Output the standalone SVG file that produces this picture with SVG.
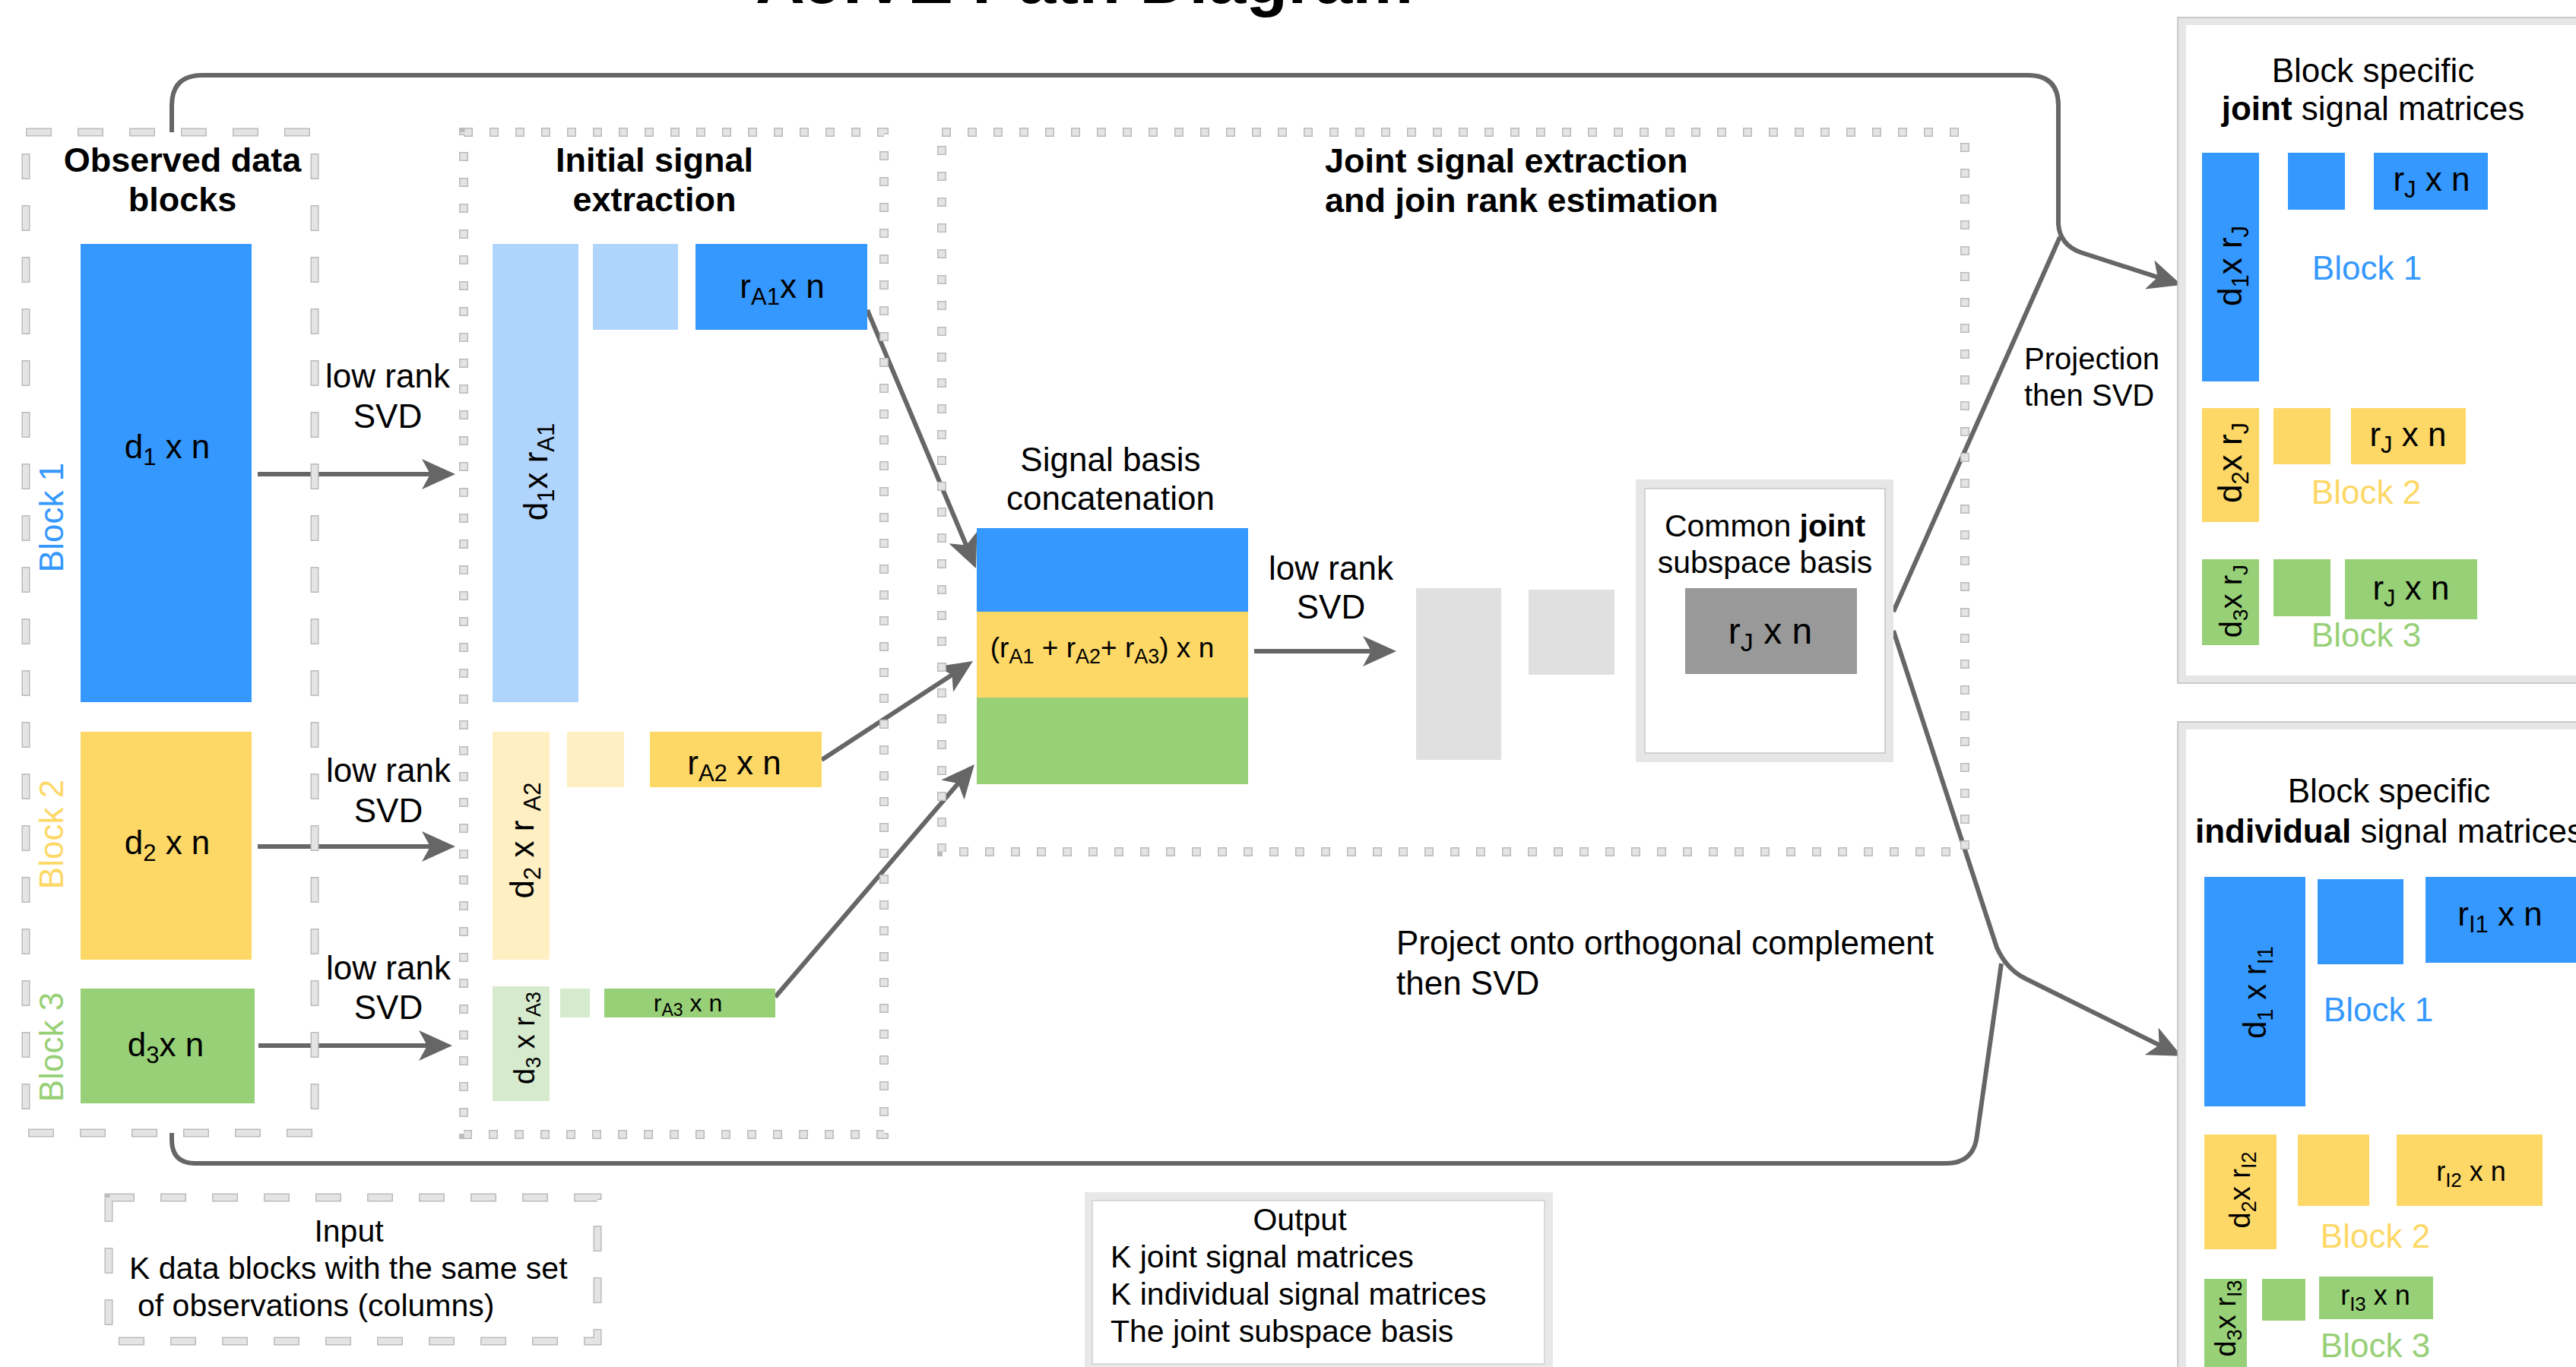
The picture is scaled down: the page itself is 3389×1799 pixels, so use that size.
<svg xmlns="http://www.w3.org/2000/svg" width="3389" height="1799" viewBox="0 0 3389 1799">
<defs>
<style>
.t{font-family:"Liberation Sans",Arial,Helvetica,sans-serif;fill:#000}
.b{font-weight:bold}
.m{text-anchor:middle}
.conn{fill:none;stroke:#666;stroke-width:6;stroke-linejoin:round}
.dO{fill:none;stroke:#bbbbbb;stroke-width:11;stroke-dasharray:34 34}
.dI{fill:none;stroke:#e4e4e4;stroke-width:8;stroke-dasharray:31 37;stroke-dashoffset:-1.5}
.pO{fill:none;stroke:#bbbbbb;stroke-width:12;stroke-dasharray:12 22}
.pI{fill:none;stroke:#e4e4e4;stroke-width:9;stroke-dasharray:9 25;stroke-dashoffset:-1.5}
.blue{fill:#3598FE}
.lblue{fill:#B0D5FD}
.yel{fill:#FDD866}
.lyel{fill:#FFF0C4}
.grn{fill:#97D077}
.lgrn{fill:#D6EACD}
.gry{fill:#E0E0E0}
</style>
<marker id="arr" viewBox="0 0 44 40" refX="30" refY="20" markerWidth="44" markerHeight="40" markerUnits="userSpaceOnUse" orient="auto">
<path d="M0,0 L44,20 L0,40 L11,20 Z" fill="#666"/>
</marker>
</defs>
<rect width="3389" height="1799" fill="#fff"/>

<g id="title"><text class="t b" x="994" y="4" font-size="90">AJIVE Path Diagram</text></g>

<g id="connectors">
<path class="conn" d="M226,174 L226,139 Q226,99 266,99 L2668,99 Q2708,99 2708,139 L2708,295 Q2710,322 2737,332 L2856.7,370.7" marker-end="url(#arr)"/>
<path class="conn" d="M2491,805 L2710,312"/>
<path class="conn" d="M226,1491 L226,1500 Q226,1531 257,1531 L2560,1531 Q2597,1531 2601,1494 L2633,1268"/>
<path class="conn" d="M2491,830 L2627,1247 Q2640,1276 2665,1288 L2857.6,1383.6" marker-end="url(#arr)"/>
<path class="conn" d="M339,624 L585,624" marker-end="url(#arr)"/>
<path class="conn" d="M339,1114 L585,1114" marker-end="url(#arr)"/>
<path class="conn" d="M340,1376 L581,1376" marker-end="url(#arr)"/>
<path class="conn" d="M1141,408 L1278.6,735.1" marker-end="url(#arr)"/>
<path class="conn" d="M1081,1000 L1268.3,877.7" marker-end="url(#arr)"/>
<path class="conn" d="M1020,1312 L1272.9,1016.6" marker-end="url(#arr)"/>
<path class="conn" d="M1650,857 L1823,857" marker-end="url(#arr)"/>
</g>

<g id="observed-blocks">
<rect class="dO" x="34" y="174" width="380" height="1317"/>
<rect class="dI" x="34" y="174" width="380" height="1317"/>
<text class="t b m" x="240" y="226" font-size="45">Observed data</text>
<text class="t b m" x="240" y="278" font-size="45">blocks</text>
</g>
<g id="block1-data">
<rect class="blue" x="106" y="321" width="225" height="603"/>
<text class="t m" x="220" y="603" font-size="44">d<tspan font-size="31" dy="9">1</tspan><tspan dy="-9"> x n</tspan></text>
<text class="t m" transform="translate(83,681) rotate(-90)" font-size="44" style="fill:#3598FE">Block 1</text>
</g>
<g id="block2-data">
<rect class="yel" x="106" y="963" width="225" height="300"/>
<text class="t m" x="220" y="1124" font-size="44">d<tspan font-size="31" dy="9">2</tspan><tspan dy="-9"> x n</tspan></text>
<text class="t m" transform="translate(83,1098) rotate(-90)" font-size="44" style="fill:#FDD866">Block 2</text>
</g>
<g id="block3-data">
<rect class="grn" x="106" y="1301" width="229" height="151"/>
<text class="t m" x="218" y="1390" font-size="44">d<tspan font-size="31" dy="9">3</tspan><tspan dy="-9">x n</tspan></text>
<text class="t m" transform="translate(83,1378) rotate(-90)" font-size="44" style="fill:#97D077">Block 3</text>
</g>

<g id="svd-labels">
<text class="t m" x="510" y="510" font-size="44">low rank</text>
<text class="t m" x="510" y="563" font-size="44">SVD</text>
<text class="t m" x="511" y="1029" font-size="44">low rank</text>
<text class="t m" x="511" y="1082" font-size="44">SVD</text>
<text class="t m" x="511" y="1289" font-size="44">low rank</text>
<text class="t m" x="511" y="1341" font-size="44">SVD</text>
</g>

<g id="initial-extraction">
<rect class="pO" x="610" y="174" width="553" height="1319"/>
<rect class="pI" x="610" y="174" width="553" height="1319"/>
<text class="t b m" x="861" y="226" font-size="45">Initial signal</text>
<text class="t b m" x="861" y="278" font-size="45">extraction</text>
</g>
<g id="initial-block1">
<rect class="lblue" x="648" y="321" width="113" height="603"/>
<rect class="lblue" x="780" y="321" width="112" height="113"/>
<rect class="blue" x="915" y="321" width="226" height="113"/>
<text class="t m" transform="translate(720,621) rotate(-90)" font-size="44">d<tspan font-size="31" dy="9">1</tspan><tspan dy="-9">x r</tspan><tspan font-size="31" dy="9">A1</tspan></text>
<text class="t m" x="1029" y="392" font-size="44">r<tspan font-size="31" dy="9">A1</tspan><tspan dy="-9">x n</tspan></text>
</g>
<g id="initial-block2">
<rect class="lyel" x="648" y="963" width="75" height="300"/>
<rect class="lyel" x="746" y="963" width="75" height="73"/>
<rect class="yel" x="855" y="963" width="226" height="73"/>
<text class="t m" transform="translate(702,1106) rotate(-90)" font-size="44">d<tspan font-size="31" dy="9">2</tspan><tspan dy="-9"> x r </tspan><tspan font-size="31" dy="9">A2</tspan></text>
<text class="t m" x="966" y="1019" font-size="44">r<tspan font-size="31" dy="9">A2</tspan><tspan dy="-9"> x n</tspan></text>
</g>
<g id="initial-block3">
<rect class="lgrn" x="648" y="1298" width="75" height="151"/>
<rect class="lgrn" x="737" y="1301" width="39" height="38"/>
<rect class="grn" x="795" y="1301" width="225" height="38"/>
<text class="t m" transform="translate(703,1366) rotate(-90)" font-size="38">d<tspan font-size="27" dy="8">3</tspan><tspan dy="-8"> x r</tspan><tspan font-size="27" dy="8">A3</tspan></text>
<text class="t m" x="905" y="1331" font-size="32">r<tspan font-size="23" dy="6">A3</tspan><tspan dy="-6"> x n</tspan></text>
</g>

<g id="joint-extraction">
<rect class="pO" x="1239" y="174" width="1346" height="947"/>
<rect class="pI" x="1239" y="174" width="1346" height="947"/>
<text class="t b" x="1743" y="227" font-size="45">Joint signal extraction</text>
<text class="t b" x="1743" y="279" font-size="45">and join rank estimation</text>
</g>
<g id="concatenation">
<text class="t m" x="1461" y="620" font-size="44">Signal basis</text>
<text class="t m" x="1461" y="671" font-size="44">concatenation</text>
<rect class="blue" x="1285" y="695" width="357" height="110"/>
<rect class="yel" x="1285" y="805" width="357" height="113"/>
<rect class="grn" x="1285" y="918" width="357" height="114"/>
<text class="t m" x="1450" y="865" font-size="37">(r<tspan font-size="27" dy="8">A1</tspan><tspan dy="-8"> + r</tspan><tspan font-size="27" dy="8">A2</tspan><tspan dy="-8">+ r</tspan><tspan font-size="27" dy="8">A3</tspan><tspan dy="-8">) x n</tspan></text>
</g>
<g id="joint-svd">
<text class="t m" x="1751" y="763" font-size="44">low rank</text>
<text class="t m" x="1751" y="814" font-size="44">SVD</text>
<rect class="gry" x="1863" y="774" width="112" height="226"/>
<rect class="gry" x="2011" y="776" width="113" height="112"/>
</g>
<g id="common-joint-basis">
<rect x="2158" y="637" width="327" height="360" fill="#fff" stroke="#e6e6e6" stroke-width="12"/>
<rect x="2164" y="643" width="316" height="348" fill="none" stroke="#c8c8c8" stroke-width="1.5"/>
<text class="t m" x="2322" y="706" font-size="41">Common <tspan class="b">joint</tspan></text>
<text class="t m" x="2322" y="754" font-size="41">subspace basis</text>
<rect x="2217" y="774" width="226" height="113" fill="#999"/>
<text class="t m" x="2329" y="847" font-size="48">r<tspan font-size="34" dy="10">J</tspan><tspan dy="-10"> x n</tspan></text>
</g>

<g id="projection-label">
<text class="t" x="2663" y="486" font-size="40">Projection</text>
<text class="t" x="2663" y="534" font-size="40">then SVD</text>
</g>
<g id="orthogonal-label">
<text class="t" x="1837" y="1256" font-size="44">Project onto orthogonal complement</text>
<text class="t" x="1837" y="1309" font-size="44">then SVD</text>
</g>

<g id="joint-matrices">
<rect x="2865" y="23" width="600" height="876" fill="#e6e6e6" stroke="#bdbdbd" stroke-width="1.5"/>
<rect x="2876" y="33" width="600" height="856" fill="#fff"/>
<text class="t m" x="3122" y="108" font-size="44">Block specific</text>
<text class="t m" x="3122" y="158" font-size="44"><tspan class="b">joint</tspan> signal matrices</text>
<rect class="blue" x="2897" y="201" width="75" height="301"/>
<rect class="blue" x="3010" y="201" width="75" height="75"/>
<rect class="blue" x="3123" y="201" width="150" height="75"/>
<text class="t m" transform="translate(2949,350) rotate(-90)" font-size="44">d<tspan font-size="31" dy="9">1</tspan><tspan dy="-9">x r</tspan><tspan font-size="31" dy="9">J</tspan></text>
<text class="t m" x="3199" y="251" font-size="44">r<tspan font-size="31" dy="9">J</tspan><tspan dy="-9"> x n</tspan></text>
<text class="t m" x="3114" y="368" font-size="44" style="fill:#3598FE">Block 1</text>
<rect class="yel" x="2897" y="537" width="75" height="150"/>
<rect class="yel" x="2991" y="537" width="75" height="74"/>
<rect class="yel" x="3093" y="537" width="151" height="74"/>
<text class="t m" transform="translate(2949,609) rotate(-90)" font-size="44">d<tspan font-size="31" dy="9">2</tspan><tspan dy="-9">x r</tspan><tspan font-size="31" dy="9">J</tspan></text>
<text class="t m" x="3168" y="587" font-size="44">r<tspan font-size="31" dy="9">J</tspan><tspan dy="-9"> x n</tspan></text>
<text class="t m" x="3113" y="663" font-size="44" style="fill:#FDD866">Block 2</text>
<rect class="grn" x="2897" y="736" width="75" height="113"/>
<rect class="grn" x="2991" y="736" width="75" height="75"/>
<rect class="grn" x="3085" y="736" width="174" height="79"/>
<text class="t m" transform="translate(2949,791) rotate(-90)" font-size="40">d<tspan font-size="28" dy="8">3</tspan><tspan dy="-8">x r</tspan><tspan font-size="28" dy="8">J</tspan></text>
<text class="t m" x="3172" y="789" font-size="44">r<tspan font-size="31" dy="9">J</tspan><tspan dy="-9"> x n</tspan></text>
<text class="t m" x="3113" y="851" font-size="44" style="fill:#97D077">Block 3</text>
</g>

<g id="individual-matrices">
<rect x="2865" y="950" width="600" height="900" fill="#e6e6e6" stroke="#bdbdbd" stroke-width="1.5"/>
<rect x="2876" y="960" width="600" height="900" fill="#fff"/>
<text class="t m" x="3143" y="1056" font-size="44">Block specific</text>
<text class="t" x="2888" y="1109" font-size="44"><tspan class="b">individual</tspan> signal matrices</text>
<rect class="blue" x="2900" y="1154" width="133" height="302"/>
<rect class="blue" x="3049" y="1157" width="113" height="112"/>
<rect class="blue" x="3191" y="1154" width="220" height="113"/>
<text class="t m" transform="translate(2981,1306) rotate(-90)" font-size="42">d<tspan font-size="29" dy="9">1</tspan><tspan dy="-9"> x r</tspan><tspan font-size="29" dy="9">I1</tspan></text>
<text class="t m" x="3289" y="1218" font-size="44">r<tspan font-size="31" dy="9">I1</tspan><tspan dy="-9"> x n</tspan></text>
<text class="t m" x="3129" y="1344" font-size="44" style="fill:#3598FE">Block 1</text>
<rect class="yel" x="2900" y="1493" width="95" height="151"/>
<rect class="yel" x="3023" y="1493" width="94" height="94"/>
<rect class="yel" x="3153" y="1493" width="192" height="94"/>
<text class="t m" transform="translate(2960,1566) rotate(-90)" font-size="38">d<tspan font-size="27" dy="8">2</tspan><tspan dy="-8">x r</tspan><tspan font-size="27" dy="8">I2</tspan></text>
<text class="t m" x="3251" y="1554" font-size="36">r<tspan font-size="26" dy="8">I2</tspan><tspan dy="-8"> x n</tspan></text>
<text class="t m" x="3125" y="1642" font-size="44" style="fill:#FDD866">Block 2</text>
<rect class="grn" x="2900" y="1683" width="56" height="120"/>
<rect class="grn" x="2976" y="1683" width="57" height="55"/>
<rect class="grn" x="3051" y="1680" width="150" height="56"/>
<text class="t m" transform="translate(2941,1735) rotate(-90)" font-size="38">d<tspan font-size="27" dy="8">3</tspan><tspan dy="-8">x r</tspan><tspan font-size="27" dy="8">I3</tspan></text>
<text class="t m" x="3125" y="1717" font-size="36">r<tspan font-size="26" dy="8">I3</tspan><tspan dy="-8"> x n</tspan></text>
<text class="t m" x="3125" y="1786" font-size="44" style="fill:#97D077">Block 3</text>
</g>

<g id="input-note">
<rect class="dO" x="143" y="1576" width="643" height="189"/>
<rect class="dI" x="143" y="1576" width="643" height="189"/>
<text class="t m" x="459" y="1634" font-size="41">Input</text>
<text class="t" x="170" y="1683" font-size="41">K data blocks with the same set</text>
<text class="t" x="181" y="1732" font-size="41">of observations (columns)</text>
</g>

<g id="output-note">
<rect x="1427" y="1569" width="616" height="250" fill="#e8e8e8"/>
<rect x="1437" y="1580" width="595" height="215" fill="#fff" stroke="#cfcfcf" stroke-width="1.5"/>
<text class="t m" x="1710" y="1619" font-size="41">Output</text>
<text class="t" x="1461" y="1668" font-size="41">K joint signal matrices</text>
<text class="t" x="1461" y="1717" font-size="41">K individual signal matrices</text>
<text class="t" x="1461" y="1766" font-size="41">The joint subspace basis</text>
</g>
</svg>
